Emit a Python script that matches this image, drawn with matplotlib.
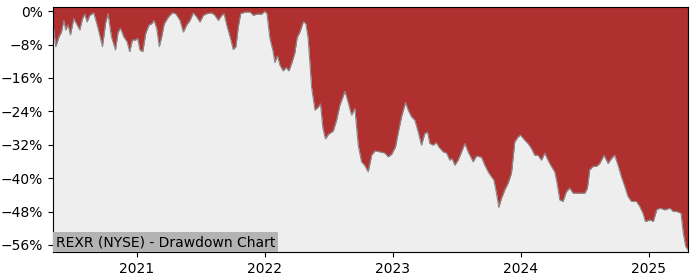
import matplotlib
matplotlib.use("Agg")
import matplotlib.pyplot as plt
import matplotlib.dates as mdates
from matplotlib.ticker import FuncFormatter, MultipleLocator
import numpy as np
import pandas as pd

# decimal-year dates and drawdown (%)
years = [
    2020.346, 2020.367, 2020.393, 2020.412, 2020.430, 2020.445, 2020.463, 2020.482,
    2020.508, 2020.534, 2020.555, 2020.576, 2020.594, 2020.612, 2020.633, 2020.664,
    2020.698, 2020.732, 2020.758, 2020.776, 2020.802, 2020.834, 2020.854, 2020.873,
    2020.898, 2020.924, 2020.945, 2020.966, 2020.992, 2021.005, 2021.023, 2021.045,
    2021.068, 2021.094, 2021.115, 2021.133, 2021.154, 2021.174, 2021.193, 2021.213,
    2021.245, 2021.276, 2021.302, 2021.336, 2021.362, 2021.388, 2021.414, 2021.440,
    2021.466, 2021.492, 2021.518, 2021.545, 2021.584, 2021.609, 2021.635, 2021.662,
    2021.680, 2021.705, 2021.727, 2021.752, 2021.773, 2021.791, 2021.810, 2021.844,
    2021.883, 2021.909, 2021.935, 2021.974, 2022.000, 2022.016, 2022.039, 2022.063,
    2022.078, 2022.098, 2022.117, 2022.143, 2022.166, 2022.188, 2022.211, 2022.234,
    2022.252, 2022.273, 2022.301, 2022.320, 2022.338, 2022.365, 2022.391, 2022.416,
    2022.434, 2022.453, 2022.473, 2022.496, 2022.534, 2022.560, 2022.586, 2022.625,
    2022.651, 2022.677, 2022.703, 2022.729, 2022.755, 2022.781, 2022.807, 2022.834,
    2022.859, 2022.898, 2022.938, 2022.963, 2022.990, 2023.021, 2023.041, 2023.068,
    2023.099, 2023.120, 2023.146, 2023.172, 2023.198, 2023.224, 2023.250, 2023.271,
    2023.289, 2023.315, 2023.341, 2023.359, 2023.393, 2023.420, 2023.445, 2023.463,
    2023.484, 2023.510, 2023.537, 2023.563, 2023.588, 2023.615, 2023.627, 2023.654,
    2023.693, 2023.719, 2023.745, 2023.771, 2023.789, 2023.810, 2023.828, 2023.849,
    2023.875, 2023.901, 2023.927, 2023.953, 2023.979, 2023.998, 2024.031, 2024.057,
    2024.084, 2024.109, 2024.135, 2024.162, 2024.188, 2024.213, 2024.240, 2024.266,
    2024.284, 2024.305, 2024.330, 2024.357, 2024.383, 2024.409, 2024.435, 2024.461,
    2024.500, 2024.521, 2024.539, 2024.565, 2024.591, 2024.617, 2024.651, 2024.682,
    2024.709, 2024.734, 2024.760, 2024.787, 2024.813, 2024.838, 2024.865, 2024.904,
    2024.930, 2024.955, 2024.974, 2025.008, 2025.034, 2025.060, 2025.086, 2025.125,
    2025.164, 2025.190, 2025.216, 2025.250, 2025.268, 2025.287, 2025.305,
]
drawdown = [
    -3.0, -8.5, -6.1, -5.0, -2.2, -4.5, -3.3, -5.7,
    -1.8, -3.3, -4.5, -1.8, -0.7, -2.6, -1.0, -0.4,
    -4.1, -8.5, -2.6, -0.6, -6.1, -9.3, -5.0, -4.1,
    -6.1, -7.3, -9.7, -6.9, -6.9, -6.5, -9.3, -9.7,
    -5.3, -3.3, -3.0, -2.2, -4.1, -8.5, -6.1, -3.0,
    -1.4, -0.4, -0.6, -2.2, -5.0, -3.3, -2.2, -0.4,
    -1.4, -2.6, -1.0, -0.6, -0.4, -1.0, -2.2, -1.0,
    -0.6, -3.8, -6.1, -9.2, -8.5, -3.8, -0.6, -0.2,
    -0.2, -1.0, -0.7, -0.7, 0.0, -0.6, -6.5, -9.5,
    -12.3, -10.7, -12.9, -14.3, -13.5, -14.3, -12.3, -10.0,
    -6.3, -5.0, -2.5, -3.0, -6.5, -18.3, -23.7, -23.0,
    -22.2, -28.0, -30.6, -29.5, -28.7, -26.1, -22.5, -19.2,
    -21.9, -24.9, -23.3, -32.1, -36.1, -37.0, -38.5, -34.5,
    -33.5, -33.7, -34.0, -34.9, -34.3, -32.5, -29.3, -25.3,
    -21.9, -23.7, -25.3, -26.1, -28.9, -32.1, -29.3, -29.0,
    -31.7, -32.1, -31.5, -32.5, -33.7, -34.0, -35.7, -35.3,
    -36.9, -35.7, -33.7, -31.7, -33.7, -35.3, -36.1, -34.7,
    -35.0, -36.9, -38.5, -39.7, -40.4, -43.6, -47.0, -44.8,
    -42.8, -41.2, -38.8, -31.3, -30.1, -29.7, -30.9, -31.7,
    -32.9, -34.5, -34.5, -35.7, -34.0, -35.7, -37.2, -38.5,
    -41.2, -45.2, -45.6, -43.2, -42.4, -43.6, -43.6, -43.6,
    -43.6, -42.4, -38.0, -37.2, -37.2, -36.5, -34.5, -36.5,
    -35.3, -34.5, -36.9, -39.7, -42.0, -44.4, -45.6, -45.6,
    -46.8, -48.4, -50.4, -50.0, -50.4, -47.6, -47.2, -47.6,
    -47.2, -48.0, -48.0, -48.4, -53.2, -56.4, -57.2,
]
yticks = [0, -8, -16, -24, -32, -40, -48, -56]
title = "REXR (NYSE) - Drawdown Chart"

yr = np.array(years)
base = pd.Timestamp("2020-01-01")
dates = [pd.Timestamp(f"{int(np.floor(y))}-01-01") + pd.to_timedelta((y - np.floor(y)) * 365.25, unit="D") for y in yr]
dd = np.array(drawdown)

fig = plt.figure(figsize=(7, 2.8), dpi=100)
ax = fig.add_axes([53 / 700, 28 / 280, 635 / 700, 245 / 280])
ax.set_facecolor("#eeeeee")
ytop = 1.0
ybot = -57.7
ax.fill_between(dates, dd, ytop, color="#b03030", linewidth=0)
ax.plot(dates, dd, color="#8a8a8a", linewidth=0.8)
ax.set_xlim(dates[0], dates[-1])
ax.set_ylim(ybot, ytop)
ax.set_yticks(yticks)
ax.yaxis.set_major_formatter(FuncFormatter(lambda v, p: f"{int(v)}%".replace("-", "\u2212")))
ax.xaxis.set_major_locator(mdates.YearLocator())
ax.xaxis.set_major_formatter(mdates.DateFormatter("%Y"))
ax.tick_params(labelsize=10)
ax.text(0.004, 0.012, title, transform=ax.transAxes, fontsize=10, ha="left", va="bottom",
        bbox=dict(facecolor="#b3b3b3", edgecolor="none", pad=2))
fig.savefig("out.png", dpi=100)
